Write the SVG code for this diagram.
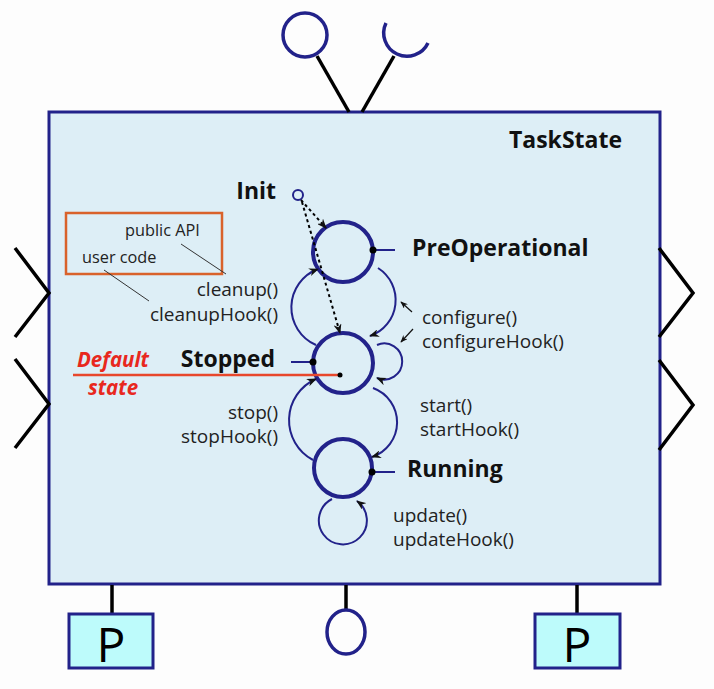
<svg xmlns="http://www.w3.org/2000/svg" width="714" height="689" viewBox="0 0 714 689">
<defs>
<style>
.ink{stroke:#000;stroke-width:3.5;fill:none;stroke-linecap:butt}
.lbl{font-family:"Open Sans","Noto Sans",sans-serif;font-size:19px;fill:#222}
.bold{font-family:"Open Sans","Noto Sans",sans-serif;font-size:23px;font-weight:bold;fill:#111}
.small{font-family:"Open Sans","Noto Sans",sans-serif;font-size:16.3px;fill:#222}
.tr{stroke:#22228a;stroke-width:2;fill:none}
.state{stroke:#22228a;stroke-width:4;fill:none}
.pbox{fill:#bdfbfb;stroke:#22228a;stroke-width:3}
</style>
<marker id="ah" viewBox="0 0 10 8" refX="9" refY="4" markerWidth="10" markerHeight="8" markerUnits="userSpaceOnUse" orient="auto">
<path d="M0,0 L10,4 L0,8 L3,4 z" fill="#111"/>
</marker>
<marker id="ahs" viewBox="0 0 10 8" refX="9" refY="4" markerWidth="8" markerHeight="6" markerUnits="userSpaceOnUse" orient="auto">
<path d="M0,0 L10,4 L0,8 L3,4 z" fill="#111"/>
</marker>
</defs>
<rect width="714" height="689" fill="#fdfdfd"/>

<g id="component">
<rect x="49" y="112" width="611" height="472" fill="#ddeef6" stroke="#22228a" stroke-width="3"/>
<text class="bold" x="622" y="148" text-anchor="end">TaskState</text>
</g>

<g id="top-ports">
<line class="ink" x1="317" y1="56" x2="349" y2="112"/>
<line class="ink" x1="394" y1="56" x2="362" y2="112"/>
<circle cx="305" cy="35" r="22" fill="none" stroke="#22228a" stroke-width="3.5"/>
<path d="M 386,23 A 22 22 0 1 0 428,43" fill="none" stroke="#22228a" stroke-width="3.5"/>
</g>

<g id="side-ports">
<polyline class="ink" points="15,248 49,293 15,337"/>
<polyline class="ink" points="15,359 49,404 15,448"/>
<polyline class="ink" points="659,248 693,293 659,337"/>
<polyline class="ink" points="659,360 693,405 659,450"/>
</g>

<g id="bottom-ports">
<line class="ink" x1="112" y1="585" x2="112" y2="614"/>
<line class="ink" x1="346" y1="585" x2="346" y2="610"/>
<line class="ink" x1="577" y1="585" x2="577" y2="614"/>
<rect class="pbox" x="69" y="614" width="84" height="54"/>
<text x="111" y="662" text-anchor="middle" font-family="Open Sans, Noto Sans, sans-serif" font-size="48" fill="#000">P</text>
<ellipse cx="346" cy="632" rx="19" ry="22" fill="none" stroke="#22228a" stroke-width="3.5"/>
<rect class="pbox" x="535" y="614" width="85" height="54"/>
<text x="577" y="662" text-anchor="middle" font-family="Open Sans, Noto Sans, sans-serif" font-size="48" fill="#000">P</text>
</g>

<g id="init">
<circle cx="298" cy="195" r="5" fill="none" stroke="#22228a" stroke-width="2"/>
<text class="bold" x="276" y="199" text-anchor="end">Init</text>
</g>

<g id="preoperational">
<circle class="state" cx="343" cy="252" r="30"/>
<line x1="373" y1="250" x2="395" y2="250" stroke="#22228a" stroke-width="2"/>
<circle cx="373" cy="250" r="3.5" fill="#000"/>
<text class="bold" x="412" y="256">PreOperational</text>
</g>

<g id="stopped">
<circle class="state" cx="343" cy="363" r="30"/>
<line x1="291" y1="362" x2="313" y2="362" stroke="#22228a" stroke-width="2"/>
<circle cx="313" cy="362" r="3.5" fill="#000"/>
<text class="bold" x="275" y="367" text-anchor="end">Stopped</text>
</g>

<g id="running">
<circle class="state" cx="343" cy="468" r="29"/>
<line x1="372" y1="472" x2="395" y2="472" stroke="#22228a" stroke-width="2"/>
<circle cx="372" cy="472" r="3.5" fill="#000"/>
<text class="bold" x="407" y="477">Running</text>
</g>

<g id="default-state">
<line x1="73" y1="375" x2="340" y2="375" stroke="#e8472c" stroke-width="2.5"/>
<circle cx="340" cy="375" r="2.5" fill="#000"/>
<text x="77" y="367" font-family="Open Sans, Noto Sans, sans-serif" font-size="20.5" font-weight="bold" font-style="italic" fill="#e8281e">Default</text>
<text x="88" y="395" font-family="Open Sans, Noto Sans, sans-serif" font-size="20.5" font-weight="bold" font-style="italic" fill="#e8281e">state</text>
</g>

<g id="legend">
<rect x="66" y="213" width="156" height="61" fill="none" stroke="#d9622b" stroke-width="2.5"/>
<text class="small" x="125" y="236">public API</text>
<text class="small" x="82" y="263">user code</text>
<line x1="181" y1="244" x2="226" y2="274" stroke="#333" stroke-width="1"/>
<line x1="104" y1="270" x2="149" y2="301" stroke="#333" stroke-width="1"/>
</g>

<g id="connectors">
<line x1="301" y1="200" x2="326" y2="228" stroke="#000" stroke-width="2" stroke-dasharray="3 3" marker-end="url(#ah)"/>
<line x1="302" y1="202" x2="340" y2="333" stroke="#000" stroke-width="2" stroke-dasharray="3 3" marker-end="url(#ah)"/>
<path class="tr" d="M 316,345 A 41 41 0 0 1 318,269" marker-end="url(#ah)"/>
<path class="tr" d="M 378,268 A 38 38 0 0 1 370,336" marker-end="url(#ah)"/>
<path class="tr" d="M 377,345 A 18 18 0 1 1 377,378" marker-end="url(#ah)"/>
<path class="tr" d="M 373,388 A 36.5 36.5 0 0 1 372,457" marker-end="url(#ah)"/>
<path class="tr" d="M 313,460 A 45 45 0 0 1 316,379" marker-end="url(#ah)"/>
<path class="tr" d="M 332,499 A 24 24 0 1 0 357,501" marker-end="url(#ah)"/>
<line x1="412" y1="312" x2="401" y2="302" stroke="#111" stroke-width="1.2" marker-end="url(#ahs)"/>
<line x1="413" y1="329" x2="401" y2="342" stroke="#111" stroke-width="1.2" marker-end="url(#ahs)"/>
</g>

<g id="labels">
<text class="lbl" x="278" y="296" text-anchor="end">cleanup()</text>
<text class="lbl" x="278" y="321" text-anchor="end">cleanupHook()</text>
<text class="lbl" x="422" y="324">configure()</text>
<text class="lbl" x="422" y="348">configureHook()</text>
<text class="lbl" x="278" y="419" text-anchor="end">stop()</text>
<text class="lbl" x="278" y="443" text-anchor="end">stopHook()</text>
<text class="lbl" x="420" y="412">start()</text>
<text class="lbl" x="420" y="436">startHook()</text>
<text class="lbl" x="393" y="522">update()</text>
<text class="lbl" x="393" y="546">updateHook()</text>
</g>
</svg>
